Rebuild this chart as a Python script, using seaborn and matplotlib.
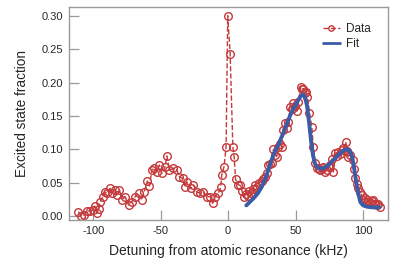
import numpy as np
import pandas as pd
import matplotlib
matplotlib.use('Agg')
import matplotlib.pyplot as plt
import seaborn as sns

# measured excited state fraction vs detuning (kHz)
data_x = [-110.9, -109.1, -106.7, -104.7, -102.2, -100.2, -99.0, -97.3, -96.0, -94.8,
          -92.8, -91.1, -89.9, -87.4, -86.2, -83.7, -82.5, -80.5, -78.8, -76.3,
          -73.8, -71.4, -68.9, -66.4, -64.0, -62.2, -59.8, -58.3, -56.5, -54.8,
          -52.8, -50.9, -49.1, -46.7, -45.4, -43.5, -40.5, -38.0, -36.1, -33.6,
          -31.9, -30.6, -27.7, -25.7, -23.2, -20.7, -18.3, -15.8, -13.3, -11.4,
          -9.6, -7.2, -5.4, -4.7, -3.0, -1.5, -0.3, 1.5, 3.5, 4.5,
          5.5, 7.5, 9.0, 10.2, 11.4, 13.0, 14.5, 15.5, 17.0, 18.8,
          20.0, 21.5, 23.0, 25.0, 26.2, 27.5, 28.6, 29.9, 31.0, 32.4,
          33.6, 35.0, 36.0, 37.3, 38.5, 39.8, 40.5, 42.3, 43.5, 44.7,
          45.9, 47.0, 48.4, 49.5, 50.9, 52.1, 53.8, 54.8, 55.8, 56.8,
          57.8, 58.8, 60.3, 62.0, 63.2, 64.5, 65.7, 67.0, 68.1, 69.5,
          70.6, 72.0, 73.0, 74.5, 75.6, 76.8, 78.0, 79.3, 80.5, 81.7,
          83.0, 84.2, 85.5, 87.2, 88.2, 89.0, 90.5, 92.4, 93.2, 94.0,
          95.3, 96.5, 97.8, 99.0, 100.0, 101.3, 102.7, 104.0, 105.2, 106.5,
          107.7, 109.0, 110.0, 111.3, 112.6]
data_y = [0.0065, 0.0, 0.0015, 0.008, 0.0075, 0.009, 0.015, 0.004, 0.010, 0.0215,
          0.029, 0.036, 0.034, 0.0415, 0.034, 0.039, 0.0315, 0.039, 0.024, 0.029,
          0.0165, 0.0215, 0.029, 0.034, 0.024, 0.036, 0.0525, 0.045, 0.069, 0.0715,
          0.066, 0.0765, 0.064, 0.074, 0.090, 0.069, 0.0715, 0.069, 0.059, 0.0565,
          0.044, 0.051, 0.0415, 0.0465, 0.036, 0.034, 0.036, 0.029, 0.029, 0.019,
          0.029, 0.034, 0.044, 0.0615, 0.074, 0.104, 0.300, 0.243, 0.104, 0.088,
          0.055, 0.047, 0.046, 0.038, 0.029, 0.033, 0.030, 0.037, 0.035, 0.041,
          0.046, 0.044, 0.050, 0.052, 0.055, 0.058, 0.064, 0.076, 0.078, 0.080,
          0.100, 0.092, 0.089, 0.104, 0.108, 0.103, 0.129, 0.139, 0.132, 0.141,
          0.164, 0.160, 0.170, 0.165, 0.157, 0.171, 0.194, 0.190, 0.191, 0.185,
          0.186, 0.178, 0.155, 0.134, 0.103, 0.080, 0.0715, 0.070, 0.069, 0.072,
          0.074, 0.066, 0.069, 0.073, 0.076, 0.0855, 0.066, 0.094, 0.090, 0.096,
          0.093, 0.099, 0.102, 0.111, 0.098, 0.089, 0.092, 0.084, 0.070, 0.0565,
          0.048, 0.0415, 0.036, 0.0315, 0.024, 0.027, 0.0215, 0.024, 0.019, 0.022,
          0.024, 0.018, 0.0165, 0.018, 0.014]

# fitted curve
fit_x = [13.5, 16, 19, 22, 25, 28, 31, 34, 37, 40,
         43, 46, 49, 51.5, 53.5, 55.5, 57, 58.5, 60, 61.5,
         63, 64.5, 66, 68, 71, 74, 77, 80, 83, 86,
         88.5, 90.5, 92, 93.5, 95, 96.5, 98, 100, 103, 107, 112]
fit_y = [0.016, 0.021, 0.027, 0.034, 0.044, 0.058, 0.077, 0.094, 0.106, 0.120,
         0.135, 0.151, 0.163, 0.172, 0.179, 0.182, 0.178, 0.165, 0.140, 0.112,
         0.090, 0.078, 0.073, 0.071, 0.072, 0.076, 0.082, 0.088, 0.094, 0.099,
         0.100, 0.097, 0.088, 0.070, 0.050, 0.033, 0.021, 0.016, 0.014, 0.013, 0.013]

x_ticks = [-100, -50, 0, 50, 100]
y_ticks = [0.00, 0.05, 0.10, 0.15, 0.20, 0.25, 0.30]

RED = '#c4393b'
BLUE = '#3b5ca6'
GRAY = '#9a9a9a'

sns.set_style('ticks')
plt.rcParams['font.family'] = ['Liberation Sans', 'DejaVu Sans']

df_data = pd.DataFrame({'x': data_x, 'y': data_y})
df_fit = pd.DataFrame({'x': fit_x, 'y': fit_y})

fig = plt.figure(figsize=(4.15, 2.62), dpi=100)
ax = fig.add_axes([0.166, 0.160, 0.769, 0.813])

sns.lineplot(data=df_data, x='x', y='y', ax=ax, color=RED, linestyle='--',
             linewidth=1.0, marker='o', markersize=5.5, markerfacecolor='none',
             markeredgecolor=RED, markeredgewidth=1.0, label='Data', zorder=2)
sns.lineplot(data=df_fit, x='x', y='y', ax=ax, color=BLUE, linewidth=2.8,
             label='Fit', zorder=3)

ax.set_xlim(-118, 118.5)
ax.set_ylim(-0.006, 0.313)
ax.set_xticks(x_ticks)
ax.set_xticklabels(['-100', '-50', '0', '50', '100'])
ax.set_yticks(y_ticks)
ax.set_yticklabels([f'{v:.2f}' for v in y_ticks])

ax.set_xlabel('Detuning from atomic resonance (kHz)', fontsize=10, labelpad=6)
ax.set_ylabel('Excited state fraction', fontsize=9.8, labelpad=9)

for s in ax.spines.values():
    s.set_visible(True)
    s.set_color(GRAY)
    s.set_linewidth(1.0)
ax.tick_params(direction='in', length=7, width=0.9, color=GRAY,
               labelsize=8, pad=4, top=False, right=False)

leg = ax.legend(loc='upper left', bbox_to_anchor=(0.795, 0.925), frameon=False,
                fontsize=8.5, handlelength=1.5, handletextpad=0.45, labelspacing=0.25,
                borderaxespad=0, borderpad=0, markerscale=0.7)
leg.get_lines()[1].set_linewidth(2.0)

fig.savefig('out.png', dpi=100)
